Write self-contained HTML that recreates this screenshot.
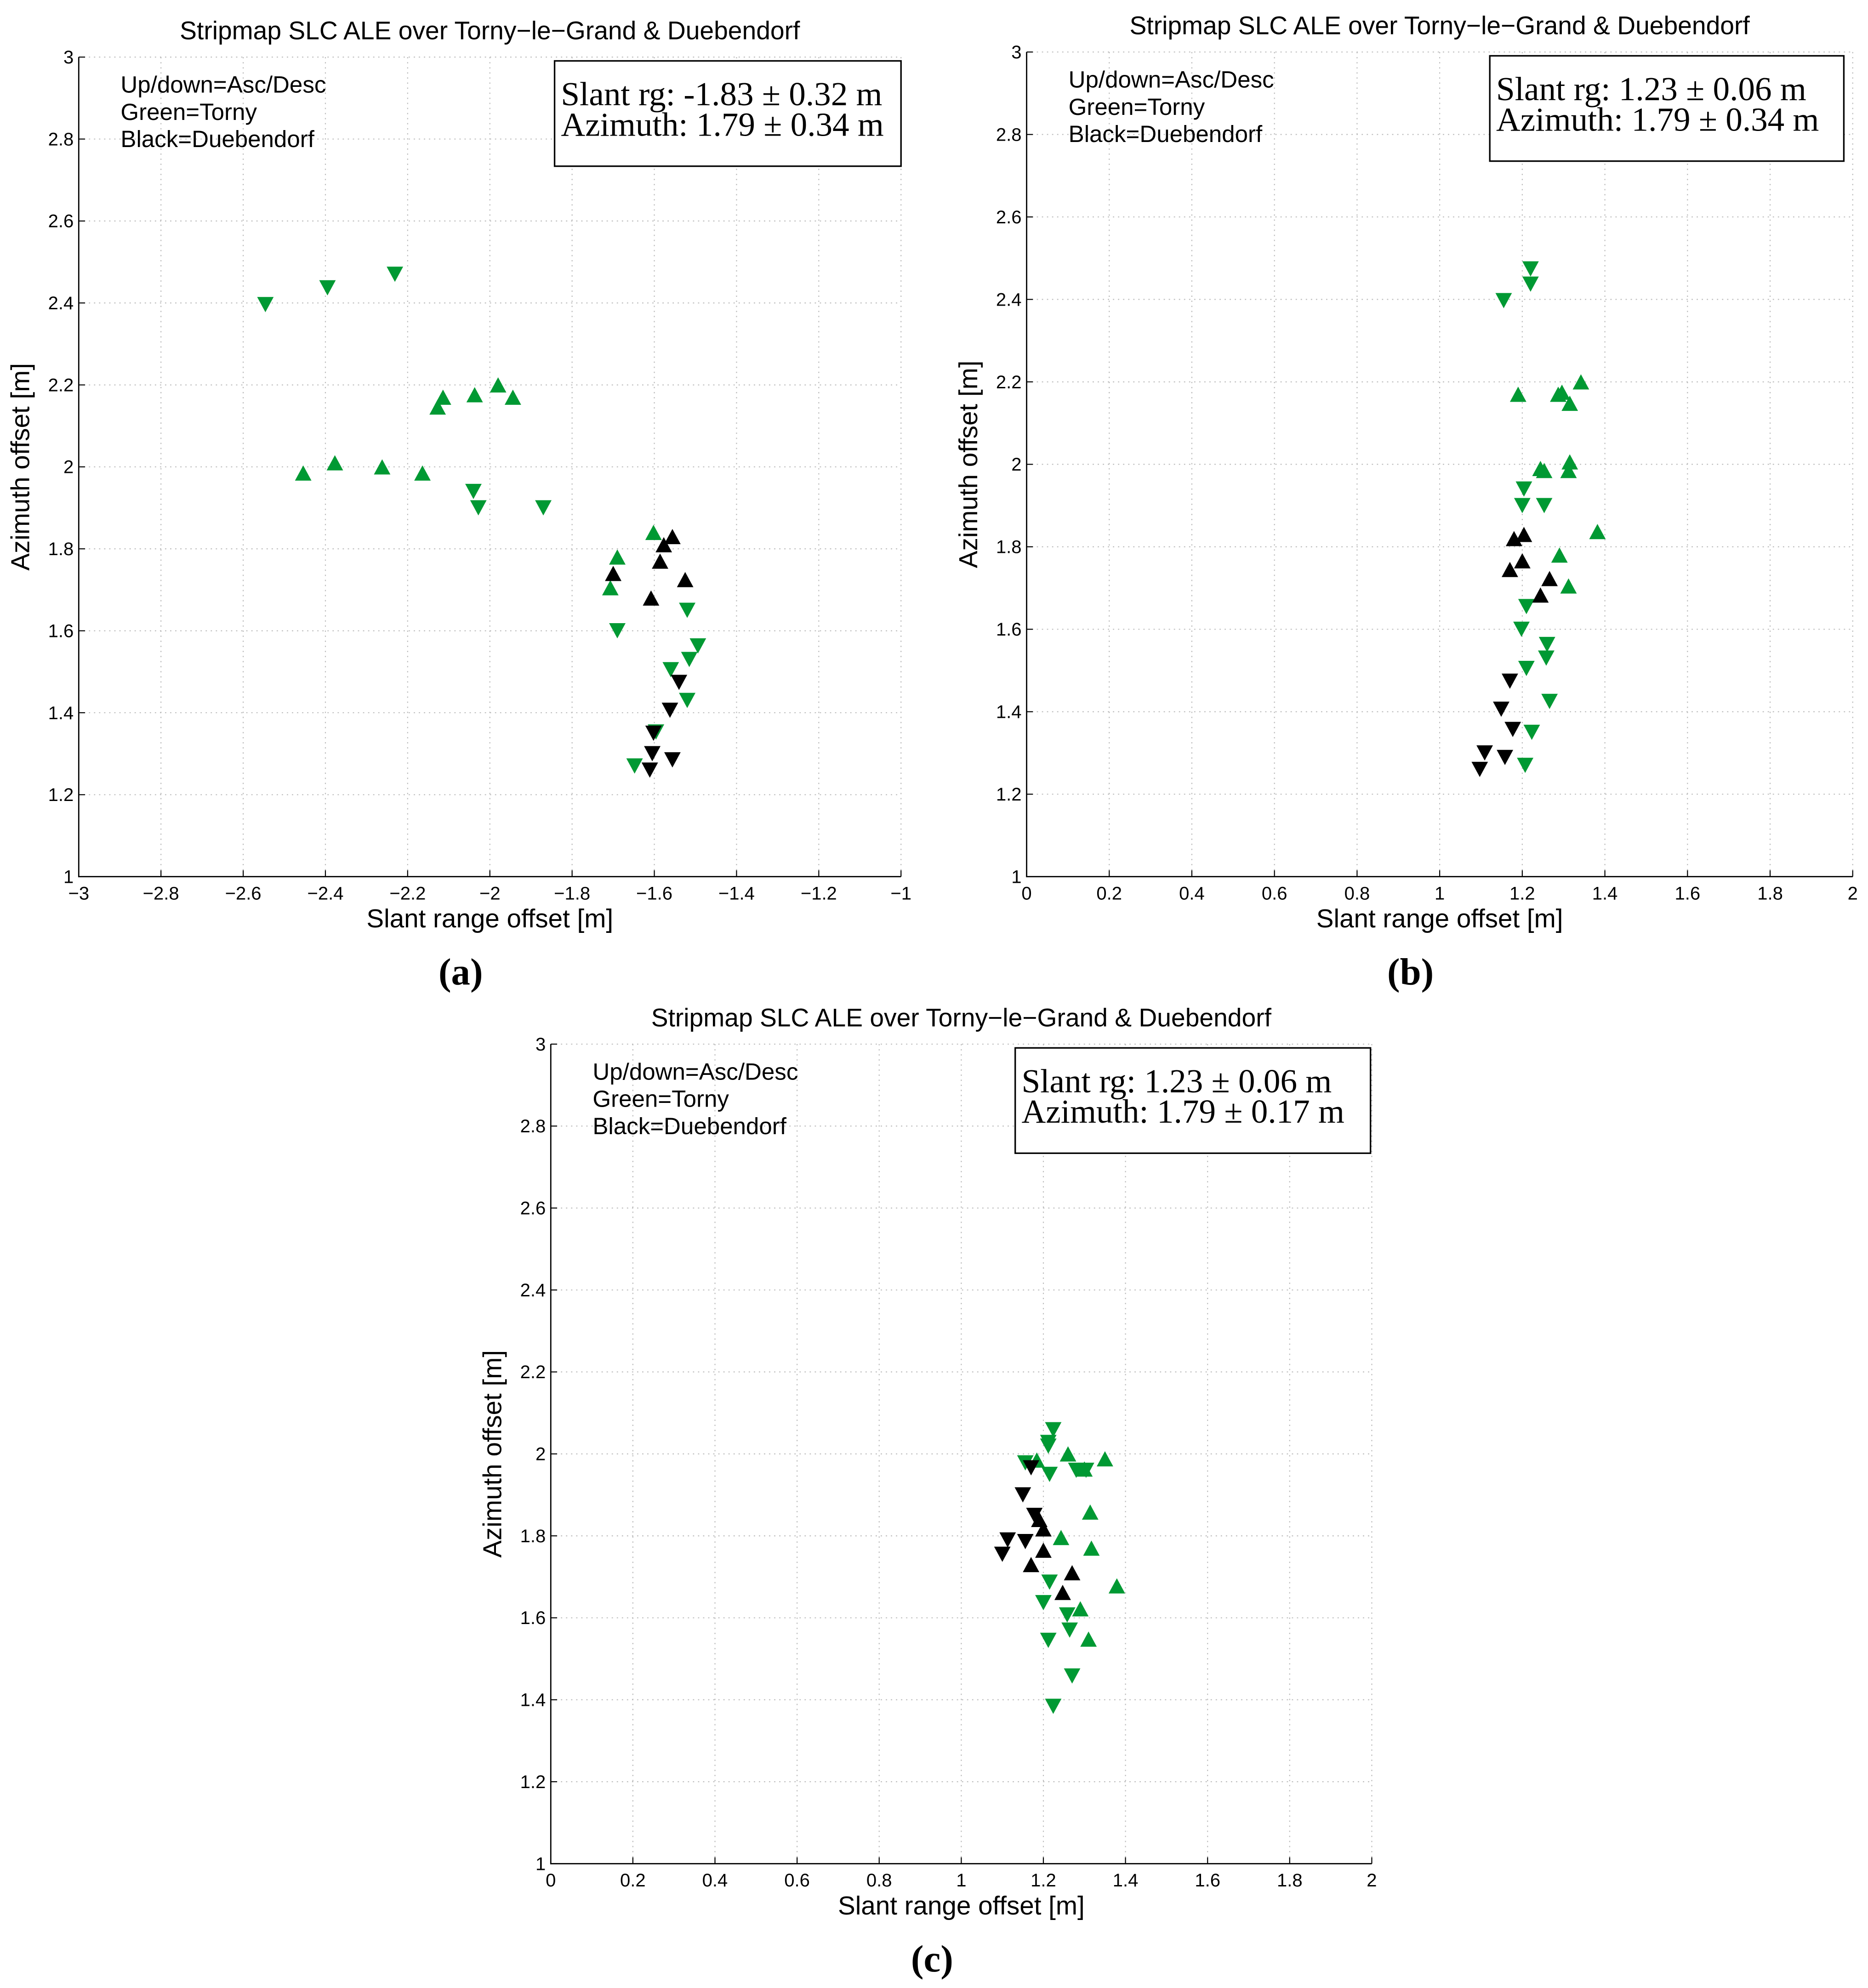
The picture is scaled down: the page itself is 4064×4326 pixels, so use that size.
<!DOCTYPE html>
<html><head><meta charset="utf-8">
<style>
html,body{margin:0;padding:0;background:#fff;}
svg{display:block;}
text{font-family:"Liberation Sans",sans-serif;fill:#000;}
.serif{font-family:"Liberation Serif",serif;}
</style></head>
<body>
<svg id="fig" width="4064" height="4326" viewBox="0 0 1472 1567" xmlns="http://www.w3.org/2000/svg"></svg>
<script>
// ---- data: panel (a) ----
const aGreenDownX=[-2.546,-2.395,-2.231,-2.04,-2.028,-1.87,-1.69,-1.52,-1.494,-1.515,-1.56,-1.52,-1.596,-1.648];
const aGreenDownY=[2.396,2.437,2.47,1.94,1.90,1.90,1.60,1.65,1.563,1.53,1.505,1.43,1.353,1.27];
const aGreenUpX=[-2.454,-2.377,-2.262,-2.164,-2.127,-2.114,-2.037,-1.98,-1.944,-1.69,-1.707,-1.602];
const aGreenUpY=[1.985,2.01,2.0,1.985,2.146,2.17,2.176,2.2,2.17,1.78,1.705,1.84];
const aBlackUpX=[-1.70,-1.608,-1.586,-1.577,-1.556,-1.525];
const aBlackUpY=[1.74,1.68,1.77,1.81,1.83,1.725];
const aBlackDownX=[-1.54,-1.562,-1.602,-1.605,-1.611,-1.556];
const aBlackDownY=[1.474,1.406,1.35,1.30,1.26,1.285];
// ---- data: panel (b) ----
const bGreenDownX=[1.22,1.22,1.155,1.204,1.2,1.253,1.21,1.198,1.26,1.258,1.21,1.266,1.223,1.207];
const bGreenDownY=[2.474,2.437,2.397,1.94,1.90,1.90,1.655,1.60,1.563,1.53,1.505,1.425,1.35,1.27];
const bGreenUpX=[1.19,1.244,1.253,1.287,1.296,1.315,1.342,1.315,1.312,1.29,1.312,1.382];
const bGreenUpY=[2.17,1.99,1.985,2.17,2.175,2.148,2.2,2.006,1.985,1.78,1.705,1.837];
const bBlackUpX=[1.17,1.18,1.204,1.2,1.244,1.266];
const bBlackUpY=[1.745,1.82,1.83,1.766,1.683,1.723];
const bBlackDownX=[1.17,1.149,1.177,1.158,1.109,1.097];
const bBlackDownY=[1.474,1.406,1.357,1.289,1.30,1.26];
// ---- data: panel (c) ----
const cGreenDownX=[1.224,1.212,1.212,1.156,1.215,1.28,1.304,1.215,1.2,1.264,1.212,1.27,1.224,1.258];
const cGreenDownY=[2.059,2.028,2.019,1.978,1.95,1.96,1.96,1.687,1.637,1.57,1.545,1.458,1.384,1.607];
const cGreenUpX=[1.26,1.3,1.35,1.314,1.317,1.243,1.379,1.29,1.31,1.184];
const cGreenUpY=[2.0,1.963,1.988,1.858,1.77,1.796,1.678,1.622,1.548,1.985];
const cBlackUpX=[1.17,1.2,1.2,1.247,1.27,1.19];
const cBlackUpY=[1.73,1.765,1.817,1.662,1.71,1.84];
const cBlackDownX=[1.15,1.178,1.113,1.1,1.156,1.17];
const cBlackDownY=[1.90,1.85,1.79,1.755,1.786,1.966];

const xTicksA=["−3","−2.8","−2.6","−2.4","−2.2","−2","−1.8","−1.6","−1.4","−1.2","−1"];
const xTicksB=["0","0.2","0.4","0.6","0.8","1","1.2","1.4","1.6","1.8","2"];
const yTicks=["1","1.2","1.4","1.6","1.8","2","2.2","2.4","2.6","2.8","3"];

const NS="http://www.w3.org/2000/svg";
const svg=document.getElementById('fig');
const GREEN="#009933";
function mk(tag,attrs,parent){const e=document.createElementNS(NS,tag);for(const k in attrs)e.setAttribute(k,attrs[k]);(parent||svg).appendChild(e);return e;}
function txt(str,attrs,parent){const e=mk('text',attrs,parent);e.textContent=str;return e;}

function panel(p){
  const g=mk('g',{});
  
  
  const sx=v=>p.x0+(v-p.xmin)/(p.xmax-p.xmin)*(p.x1-p.x0);
  const sy=v=>p.y0-(v-1)/2*(p.y0-p.y1);
  for(let i=0;i<=10;i++){
    const v=p.xmin+i*(p.xmax-p.xmin)/10, X=sx(v);
    if(i>0){const l=mk('line',{x1:X,x2:X,y1:p.y1,y2:p.y0,stroke:'#bbb','stroke-width':0.8,'stroke-dasharray':'1 3'},g);
      }
    mk('line',{x1:X,x2:X,y1:p.y0,y2:p.y0-5,stroke:'#000','stroke-width':0.8},g);
    const t=txt(p.xt[i],{x:X,y:p.y0+18,'font-size':14.5,'text-anchor':'middle'},g);
    
  }
  for(let i=0;i<=10;i++){
    const v=1+i*0.2, Y=sy(v);
    if(i>0){const l=mk('line',{x1:p.x0,x2:p.x1,y1:Y,y2:Y,stroke:'#bbb','stroke-width':0.8,'stroke-dasharray':'1 3'},g);
      }
    mk('line',{x1:p.x0,x2:p.x0+5,y1:Y,y2:Y,stroke:'#000','stroke-width':0.8},g);
    const t=txt(yTicks[i],{x:p.x0-4,y:Y+5,'font-size':14.5,'text-anchor':'end'},g);
    
  }
  const ax=mk('path',{d:`M${p.x0} ${p.y1}V${p.y0}H${p.x1}`,fill:'none',stroke:'#000','stroke-width':1},g);
  
  function tri(xs,ys,col,up,name){
    for(let i=0;i<xs.length;i++){
      const X=sx(xs[i]),Y=sy(ys[i]),w=6.5,h=6;
      const d=up?`M${X-w} ${Y+h}L${X+w} ${Y+h}L${X} ${Y-h}Z`:`M${X-w} ${Y-h}L${X+w} ${Y-h}L${X} ${Y+h}Z`;
      const m=mk('path',{d:d,fill:col},g);
      
      
    }
  }
  tri(p.gdx,p.gdy,GREEN,false,'torny-desc-marker');
  tri(p.gux,p.guy,GREEN,true,'torny-asc-marker');
  tri(p.bux,p.buy,'#000',true,'duebendorf-asc-marker');
  tri(p.bdx,p.bdy,'#000',false,'duebendorf-desc-marker');
  const ti=txt('Stripmap SLC ALE over Torny−le−Grand & Duebendorf',{x:(p.x0+p.x1)/2,y:p.y1-14,'font-size':20,'text-anchor':'middle'},g);
  
  const xl=txt('Slant range offset [m]',{x:(p.x0+p.x1)/2,y:p.y0+40,'font-size':20.5,'text-anchor':'middle'},g);
  
  const yx=p.x0-39, yy=(p.y0+p.y1)/2;
  const yl=txt('Azimuth offset [m]',{x:yx,y:yy,'font-size':20.5,'text-anchor':'middle',transform:`rotate(-90 ${yx} ${yy})`},g);
  
  const lg=mk('g',{},g);
  
  ['Up/down=Asc/Desc','Green=Torny','Black=Duebendorf'].forEach((s,i)=>txt(s,{x:p.x0+33,y:p.y1+28+i*21.5,'font-size':18.5},lg));
  const bx=p.bx, by=p.y1+3;
  const sb=mk('g',{},g);
  
  mk('rect',{x:bx,y:by,width:p.bw,height:83,fill:'#fff',stroke:'#000','stroke-width':1.2},sb);
  txt(p.s1,{x:bx+5,y:by+35,'font-size':26.5,class:'serif'},sb);
  txt(p.s2,{x:bx+5,y:by+59,'font-size':26.5,class:'serif'},sb);
  const pl=txt(p.lab,{x:(p.x0+p.x1)/2-23,y:p.y0+85,'font-size':30,'font-weight':'bold','text-anchor':'middle',class:'serif'},g);
  
}
panel({id:'a',x0:62,x1:710,y0:691,y1:45,xmin:-3,xmax:-1,xt:xTicksA,bx:437,bw:273,
  gdx:aGreenDownX,gdy:aGreenDownY,gux:aGreenUpX,guy:aGreenUpY,bux:aBlackUpX,buy:aBlackUpY,bdx:aBlackDownX,bdy:aBlackDownY,
  s1:'Slant rg: -1.83 ± 0.32 m',s2:'Azimuth: 1.79 ± 0.34 m',lab:'(a)'});
panel({id:'b',x0:809,x1:1460,y0:691,y1:41,xmin:0,xmax:2,xt:xTicksB,bx:1174,bw:279,
  gdx:bGreenDownX,gdy:bGreenDownY,gux:bGreenUpX,guy:bGreenUpY,bux:bBlackUpX,buy:bBlackUpY,bdx:bBlackDownX,bdy:bBlackDownY,
  s1:'Slant rg: 1.23 ± 0.06 m',s2:'Azimuth: 1.79 ± 0.34 m',lab:'(b)'});
panel({id:'c',x0:434,x1:1081,y0:1469,y1:823,xmin:0,xmax:2,xt:xTicksB,bx:800,bw:280,
  gdx:cGreenDownX,gdy:cGreenDownY,gux:cGreenUpX,guy:cGreenUpY,bux:cBlackUpX,buy:cBlackUpY,bdx:cBlackDownX,bdy:cBlackDownY,
  s1:'Slant rg: 1.23 ± 0.06 m',s2:'Azimuth: 1.79 ± 0.17 m',lab:'(c)'});
</script>
</body></html>
